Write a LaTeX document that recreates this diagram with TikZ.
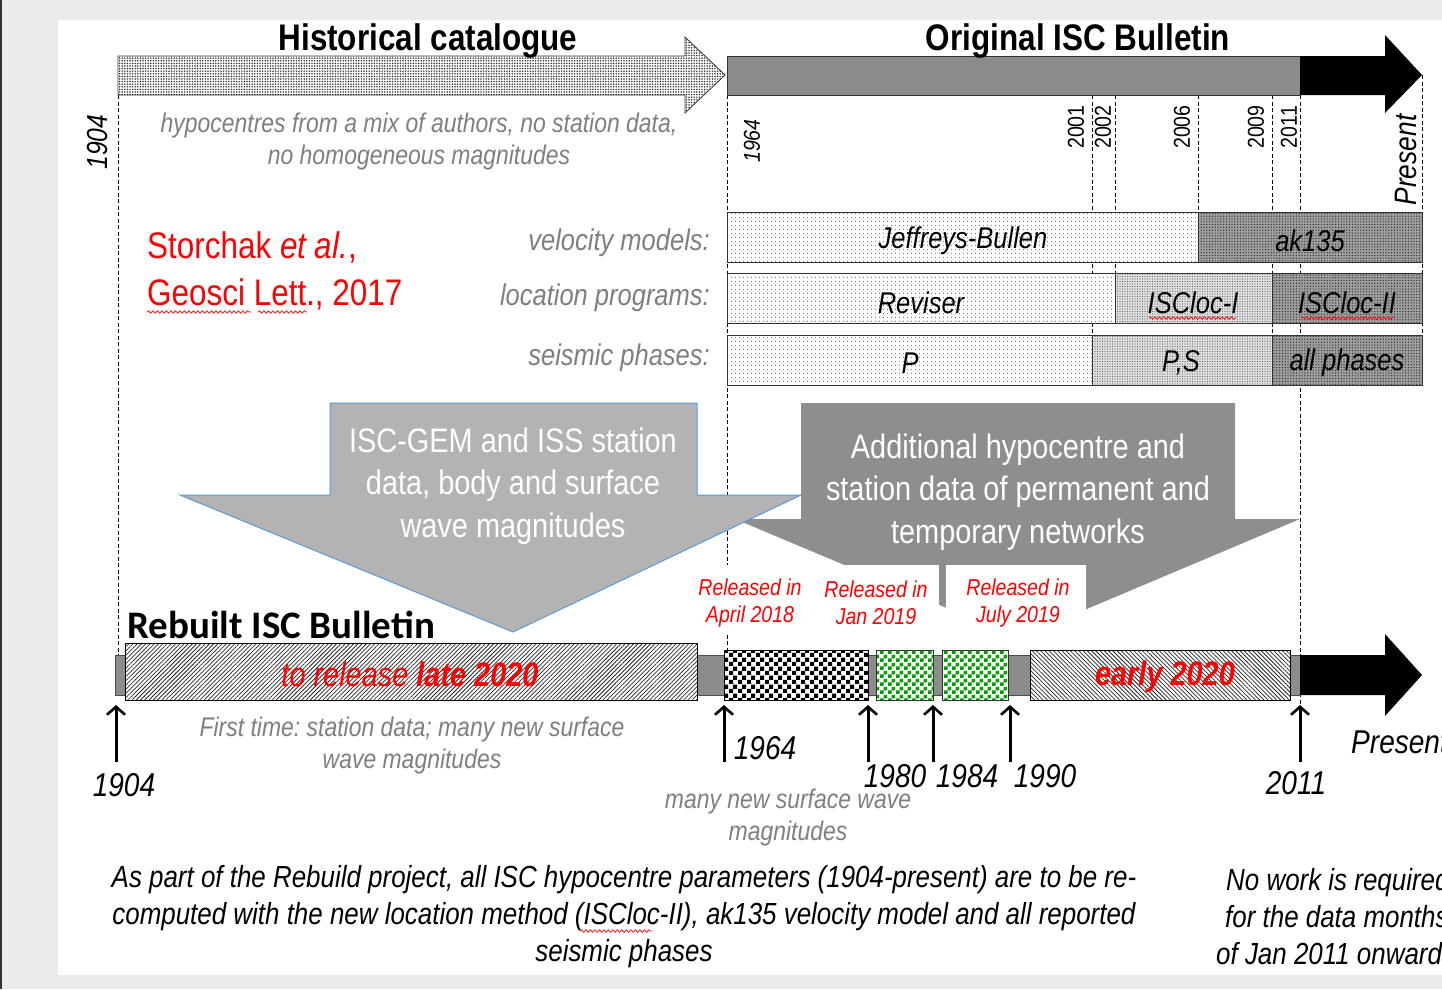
\documentclass[tikz,border=0pt]{standalone}
\usepackage{fontspec}
\setmainfont{Liberation Sans}[FakeStretch=0.85]
\newfontfamily\carl{Carlito}
\usetikzlibrary{patterns,patterns.meta,arrows.meta,decorations.pathmorphing}
\definecolor{bgray}{HTML}{EBEBEB}
\definecolor{barg}{HTML}{8C8C8C}
\definecolor{txtgray}{HTML}{7F7F7F}
\definecolor{lightarrow}{HTML}{B3B3B3}
\definecolor{darkarrow}{HTML}{8E8E8E}
\definecolor{edgeblue}{HTML}{5B9BD5}
\definecolor{chkgreen}{HTML}{00A000}
\definecolor{myred}{HTML}{FF0000}
\pgfdeclarepatternformonly{bigchecker}{\pgfpointorigin}{\pgfqpoint{9pt}{9pt}}{\pgfqpoint{9pt}{9pt}}{%
 \pgfpathrectangle{\pgfpointorigin}{\pgfqpoint{4.5pt}{4.5pt}}%
 \pgfpathrectangle{\pgfqpoint{4.5pt}{4.5pt}}{\pgfqpoint{4.5pt}{4.5pt}}%
 \pgfusepath{fill}}
\pgfdeclarepatternformonly{smallchecker}{\pgfpointorigin}{\pgfqpoint{8pt}{8pt}}{\pgfqpoint{8pt}{8pt}}{%
 \pgfpathrectangle{\pgfpointorigin}{\pgfqpoint{4pt}{4pt}}%
 \pgfpathrectangle{\pgfqpoint{4pt}{4pt}}{\pgfqpoint{4pt}{4pt}}%
 \pgfusepath{fill}}
\newcommand\fsz[2]{\fontsize{#1}{#2}\selectfont}
\frenchspacing
\begin{document}
\begin{tikzpicture}[x=1pt,y=-1pt,
  txt/.style={inner sep=0pt, align=center, yshift=-3pt},
  vdash/.style={draw=black, dash pattern=on 4pt off 2.5pt, line width=0.9pt},
  histfill/.style={preaction={fill=white}, pattern={Dots[distance=2.6pt,radius=0.85pt]}, pattern color=black!80, draw=black!80, line width=0.8pt},
  lightdot/.style={preaction={fill=white}, pattern={Dots[distance=4pt,radius=0.6pt]}, pattern color=black!65, draw=black!80, line width=1pt},
  meddot/.style={preaction={fill=black!12}, pattern={Dots[distance=2.5pt,radius=0.6pt]}, pattern color=black!60, draw=black!80, line width=1pt},
  darkdot/.style={preaction={fill=black!38}, pattern={Dots[distance=2.8pt,radius=0.7pt]}, pattern color=black!80, draw=black!80, line width=1pt},
  hatchR/.style={preaction={fill=white}, pattern={Lines[angle=45,distance=3pt,line width=0.75pt]}, pattern color=black!85, draw=black, line width=1pt},
  hatchL/.style={preaction={fill=white}, pattern={Lines[angle=-45,distance=3pt,line width=0.75pt]}, pattern color=black!85, draw=black, line width=1pt},
  blkchk/.style={preaction={fill=white}, pattern=bigchecker, pattern color=black, draw=black, line width=1pt},
  grnchk/.style={preaction={fill=white}, pattern=smallchecker, pattern color=chkgreen, draw=black!80, line width=1pt},
  uparrow/.style={line width=3pt, -{Straight Barb[length=8pt,width=18pt,line width=2.6pt]}},
  wavy/.style={draw=myred, line width=0.7pt, decorate, decoration={snake, amplitude=1.3pt, segment length=4.5pt}},
  graytxt/.style={txt, text=txtgray, font=\itshape\fsz{27}{32}},
  rowlab/.style={inner sep=0pt, anchor=east, yshift=-3pt, text=txtgray, font=\itshape\fsz{30}{34}},
  bartxt/.style={txt, yshift=1pt, font=\itshape\fsz{30}{34}},
  yearv/.style={inner sep=0pt, rotate=90, font=\fsz{23}{26}},
  yearb/.style={inner sep=0pt, font=\itshape\fsz{33}{38}},
  reltxt/.style={txt, yshift=2pt, text=myred, font=\itshape\fsz{23}{27}},
  arrtxt/.style={txt, text=white, font=\fsz{34}{42.5}},
  title/.style={txt, font=\bfseries\fsz{37}{40}}]
\useasboundingbox (0,0) rectangle (1442,989);
\clip (0,0) rectangle (1442,989);
% background
\fill[bgray] (0,0) rectangle (1442,989);
\fill[white] (58,20) rectangle (1442,975);
\fill[black!80] (0,0) rectangle (2,989);

% dashed year lines
\draw[vdash] (118,95) -- (118,655);
\draw[vdash] (727,95) -- (727,650);
\draw[vdash] (1092,95) -- (1092,385);
\draw[vdash] (1115,95) -- (1115,323);
\draw[vdash] (1198,95) -- (1198,262);
\draw[vdash] (1272,95) -- (1272,385);
\draw[vdash] (1300,95) -- (1300,705);
\draw[vdash] (1422,75) -- (1422,385);

% top arrows
\draw[histfill] (118,56) -- (685,56) -- (685,37) -- (725,75) -- (685,113) -- (685,95) -- (118,95) -- cycle;
\draw[fill=barg, draw=black!80, line width=1pt] (727,56) rectangle (1300,95);
\fill[black] (1300,56) -- (1385,56) -- (1385,35) -- (1422,75) -- (1385,113) -- (1385,95) -- (1300,95) -- cycle;
\node[title] (hist) at (428,38) {Historical catalogue};
\node[title] (orig) at (1078,38) {Original ISC Bulletin};

% rotated years
\node[yearv, font=\itshape\fsz{29}{32}] (y1904) at (98,142) {1904};
\node[yearv, font=\itshape\fsz{23}{26}] (y1964) at (752,141) {1964};
\node[yearv] (y2001) at (1076,127) {2001};
\node[yearv] (y2002) at (1103,127) {2002};
\node[yearv] (y2006) at (1182,127) {2006};
\node[yearv] (y2009) at (1256,127) {2009};
\node[yearv] (y2011) at (1289,127) {2011};
\node[yearv, font=\itshape\fsz{31}{34}] (ypres) at (1406,160) {Present};

\node[graytxt] (hypo) at (419,139) {hypocentres from a mix of authors, no station data,\\no homogeneous magnitudes};

% reference
\node[inner sep=0pt, anchor=west, yshift=-3pt, align=left, text=myred, font=\fsz{37}{47}] (ref) at (147,268) {Storchak \textit{et al.},\\Geosci Lett., 2017};
\draw[wavy] (147,312) -- (251,312);
\draw[wavy] (258,312) -- (307,312);

% row labels
\node[rowlab] (lvel) at (710,240) {velocity models:};
\node[rowlab] (lloc) at (710,295) {location programs:};
\node[rowlab] (lpha) at (710,355) {seismic phases:};

% rows
\draw[lightdot] (727,212) rectangle (1198,262);
\draw[darkdot] (1198,212) rectangle (1422,262);
\draw[lightdot] (727,273) rectangle (1115,323);
\draw[meddot] (1115,273) rectangle (1272,323);
\draw[darkdot] (1272,273) rectangle (1422,323);
\draw[lightdot] (727,335) rectangle (1092,385);
\draw[meddot] (1092,335) rectangle (1272,385);
\draw[darkdot] (1272,335) rectangle (1422,385);
\node[bartxt] (jb) at (963,239) {Jeffreys-Bullen};
\node[bartxt] (ak) at (1310,239) {ak135};
\node[bartxt] (rev) at (921,301) {Reviser};
\node[bartxt] (isc1) at (1193,301) {ISCloc-I};
\node[bartxt] (isc2) at (1347,301) {ISCloc-II};
\node[bartxt] (pp) at (910,361) {P};
\node[bartxt] (ps) at (1181,361) {P,S};
\node[bartxt] (allph) at (1347,361) {all phases};
\draw[wavy] (1149,318) -- (1236,318);
\draw[wavy] (1301,318) -- (1394,318);

% big arrows
\fill[darkarrow] (801,403) -- (1235,403) -- (1235,519) -- (1300,519) -- (1018,638) -- (735,519) -- (801,519) -- cycle;
\draw[fill=lightarrow, draw=edgeblue, line width=1pt] (330,403) -- (697,403) -- (697,495) -- (801,495) -- (513,632) -- (180,495) -- (330,495) -- cycle;
\node[arrtxt] (gem) at (513,483) {ISC-GEM and ISS station\\data, body and surface\\wave magnitudes};
\node[arrtxt] (addl) at (1018,489) {Additional hypocentre and\\station data of permanent and\\temporary networks};

% released boxes
\fill[white] (683,565) rectangle (939,632);
\fill[white] (946,565) rectangle (1086,640);
\node[reltxt] (r1) at (750,602) {Released in\\April 2018};
\node[reltxt] (r2) at (876,602) {Released in\\Jan 2019};
\node[reltxt] (r3) at (1018,602) {Released in\\July 2019};

% rebuilt bulletin
\node[inner sep=0pt, anchor=west, font=\carl\bfseries\fsz{39}{42}] (rebuilt) at (127,625) {Rebuilt ISC Bulletin};
\draw[fill=barg, draw=black!70, line width=0.8pt] (115,655) rectangle (1300,695);
\fill[black] (1300,655) -- (1385,655) -- (1385,634) -- (1422,675) -- (1385,716) -- (1385,695) -- (1300,695) -- cycle;
\draw[hatchR] (125,643) rectangle (697,700);
\draw[blkchk] (724,650) rectangle (868,700);
\draw[grnchk] (876,650) rectangle (933,700);
\draw[grnchk] (942,650) rectangle (1008,700);
\draw[hatchL] (1030,650) rectangle (1290,700);
\node[txt, yshift=2pt, text=myred, font=\itshape\fsz{34}{38}] (late) at (410,673) {to release \textbf{late 2020}};
\node[txt, yshift=2pt, text=myred, font=\bfseries\itshape\fsz{34}{38}] (early) at (1165,676) {early 2020};

% up arrows
\foreach \n/\x in {a/116, b/724, c/868, d/933, e/1010, f/1300}{
  \coordinate (\n s) at (\x,762);
  \coordinate (\n e) at (\x,705);
  \draw[uparrow] (\n s) -- (\n e);
}
\node[yearb] (b1904) at (124,785) {1904};
\node[yearb] (b1964) at (765,748) {1964};
\node[yearb] (b1980) at (895,776) {1980};
\node[yearb] (b1984) at (967,776) {1984};
\node[yearb] (b1990) at (1045,776) {1990};
\node[yearb] (b2011) at (1296,783) {2011};
\node[inner sep=0pt, anchor=west, font=\itshape\fsz{33}{38}] (bpres) at (1351,742) {Present};

\node[graytxt] (first) at (412,743) {First time: station data; many new surface\\wave magnitudes};
\node[graytxt] (many) at (788,815) {many new surface wave\\magnitudes};

% bottom notes
\node[txt, font=\itshape\fsz{30.5}{37}] (note) at (624,914) {As part of the Rebuild project, all ISC hypocentre parameters (1904-present) are to be re-\\computed with the new location method (ISCloc-II), ak135 velocity model and all reported\\seismic phases};
\draw[wavy] (580,931) -- (652,931);
\node[inner sep=0pt, anchor=west, yshift=-3pt, align=left, font=\itshape\fsz{30.5}{37}] (nowork) at (1216,914) {\hspace*{10pt}No work is required\\\hspace*{9pt}for the data months\\of Jan 2011 onwards};
\end{tikzpicture}
\end{document}
